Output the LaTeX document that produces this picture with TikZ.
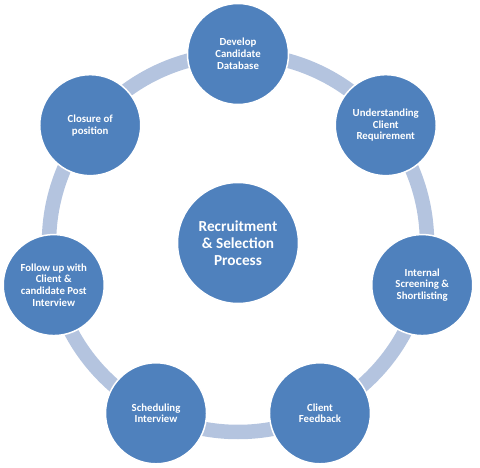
\documentclass[tikz,border=0pt]{standalone}
\usepackage{fontspec}
\setmainfont{Carlito}
\usetikzlibrary{calc}
\definecolor{ringc}{HTML}{B4C4DF}
\definecolor{nodec}{HTML}{4F81BD}
\begin{document}
\begin{tikzpicture}[x=1pt,y=1pt,
  stage/.style={circle,fill=nodec,draw=white,line width=1.5pt,minimum size=101pt,inner sep=0pt,
    text=white,font=\bfseries\fontsize{10.8}{11.8}\selectfont,align=center},
  hub/.style={circle,fill=nodec,draw=white,line width=1.5pt,minimum size=121pt,inner sep=0pt,
    text=white,font=\bfseries\fontsize{15.3}{17.3}\selectfont,align=center}]
\useasboundingbox (0,0) rectangle (480,467);
\coordinate (c) at (238,224);
\draw[ringc,line width=14.5pt] (c) circle (189);
\node[hub] (hub) at (c) {Recruitment\\\& Selection\\Process};
\node[stage] (s1) at ($(c)+(90:189)$) {Develop\\Candidate\\Database};
\node[stage] (s2) at ($(c)+(38.57:189)$) {Understanding\\Client\\Requirement};
\node[stage] (s3) at ($(c)+(-12.86:189)$) {Internal\\Screening \&\\Shortlisting};
\node[stage] (s4) at ($(c)+(-64.29:189)$) {Client\\Feedback};
\node[stage] (s5) at ($(c)+(-115.71:189)$) {Scheduling\\Interview};
\node[stage] (s6) at ($(c)+(-167.14:189)$) {Follow up with\\Client \&\\candidate Post\\Interview};
\node[stage] (s7) at ($(c)+(141.43:189)$) {Closure of\\position};
\end{tikzpicture}
\end{document}
